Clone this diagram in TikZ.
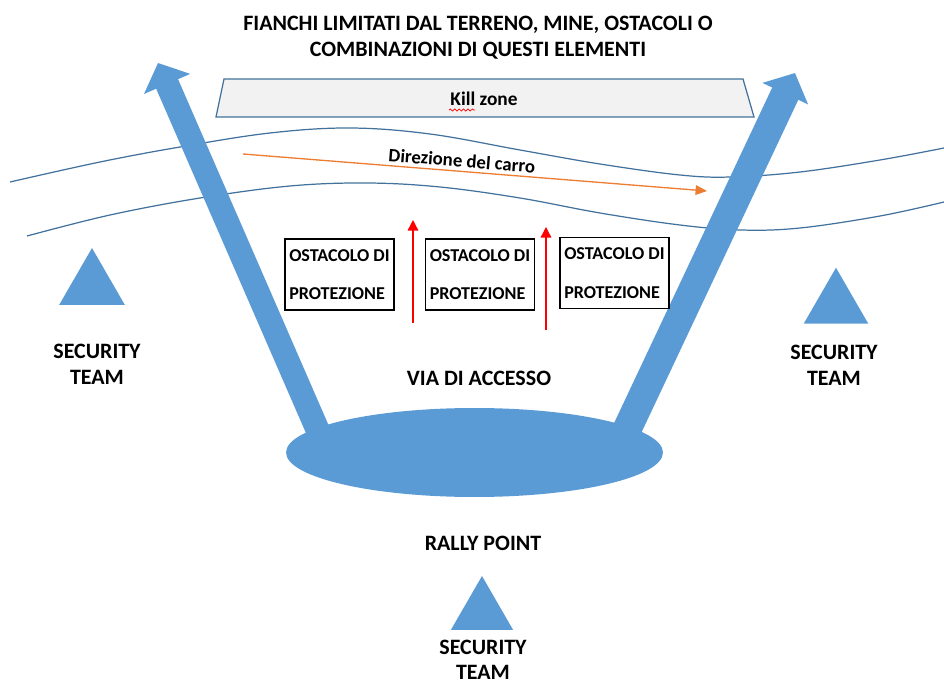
\documentclass[tikz,border=0pt]{standalone}
\usepackage{fontspec}
\setmainfont{Carlito}
\usetikzlibrary{arrows.meta,shapes.geometric,decorations.pathmorphing}
\definecolor{officeblue}{HTML}{5B9BD5}
\definecolor{waveblue}{HTML}{41719C}
\definecolor{carroarancio}{HTML}{ED7D31}
\definecolor{zonegray}{HTML}{F2F2F2}
\tikzset{
  lbl/.style={font=\fontsize{12.5}{15}\selectfont\bfseries, align=center, inner sep=1pt},
  team/.style={regular polygon, regular polygon sides=3, fill=officeblue, inner sep=0pt, outer sep=0pt},
  ostacolo/.style={draw, line width=0.8pt, fill=white, minimum width=2.18cm, minimum height=1.42cm,
    inner sep=1pt, align=left, font=\fontsize{10.3}{22}\selectfont\bfseries},
  bigarrow/.style={officeblue, line cap=butt, -{Triangle[length=13pt, width=28pt]}},
  wave/.style={waveblue, line width=0.7pt},
  zone/.style={draw=waveblue, line width=0.7pt, fill=zonegray},
  carro/.style={carroarancio, line width=0.75pt, -{Triangle[length=6.5pt, width=5.5pt]}},
  avanzata/.style={red, line width=0.75pt, -{Triangle[length=6pt, width=6pt]}},
}
\begin{document}
\begin{tikzpicture}[x=0.02cm, y=-0.02cm]
    \useasboundingbox (0,0) rectangle (944,686);
    % terreno
    \draw[wave] plot[smooth, tension=0.6] coordinates {(10,182) (100,162) (180,147) (270,133) (350,128) (430,134) (520,150) (600,164) (680,175) (731,177) (800,172) (880,160) (944,148)};
    \draw[wave] plot[smooth, tension=0.6] coordinates {(27,236) (110,215) (200,198) (290,186) (367,183) (440,187) (520,198) (600,213) (680,225) (741,230) (800,228) (880,216) (944,202)};
    % kill zone
    \node[lbl] (titolo) at (478,38) {FIANCHI LIMITATI DAL TERRENO, MINE, OSTACOLI O\\COMBINAZIONI DI QUESTI ELEMENTI};
    \draw[zone] (224,79) -- (743,79) -- (754,117) -- (216,117) -- cycle;
    \node[lbl, font=\fontsize{11}{13}\selectfont\bfseries] (kill) at (484,99) {Kill zone};
    \draw[red, line width=0.4pt, decorate, decoration={snake, amplitude=0.6pt, segment length=2.5pt}] (449,110) -- (475,110);
    % direzione del carro
    \coordinate (carroA) at (243,154);
    \coordinate (carroB) at (707,191);
    \draw[carro] (carroA) -- node[sloped, above, pos=0.47, text=black, font=\fontsize{10.7}{12}\selectfont\bfseries, inner sep=2pt] {Direzione del carro} (carroB);
    % vie di fuga
    \coordinate (lfoot) at (322,440);
    \coordinate (ltip) at (158,63);
    \coordinate (rfoot) at (622,440);
    \coordinate (rtip) at (795,73);
    \draw[bigarrow, line width=13.6pt] (lfoot) -- (ltip);
    \draw[bigarrow, line width=16.4pt] (rfoot) -- (rtip);
    \node[ellipse, fill=officeblue, inner sep=0pt, minimum width=7.54cm, minimum height=1.78cm] (rally) at (474.5,452.5) {};
    % ostacoli
    \node[ostacolo] (ost1) at (339.5,274.5) {OSTACOLO DI\\PROTEZIONE};
    \node[ostacolo] (ost2) at (480,274.5) {OSTACOLO DI\\PROTEZIONE};
    \node[ostacolo] (ost3) at (614.5,273) {OSTACOLO DI\\PROTEZIONE};
    \coordinate (av1a) at (413,323);
    \coordinate (av1b) at (413,220);
    \coordinate (av2a) at (546,330);
    \coordinate (av2b) at (546,227);
    \draw[avanzata] (av1a) -- (av1b);
    \draw[avanzata] (av2a) -- (av2b);
    % etichette
    \node[lbl] (accesso) at (479,378) {VIA DI ACCESSO};
    \node[lbl] (rallylbl) at (483,543) {RALLY POINT};
    % security team
    \node[team, minimum size=1.52cm] (tsx) at (92,286) {};
    \node[team, minimum size=1.49cm] (tdx) at (836,305) {};
    \node[team, minimum size=1.44cm] (tgiu) at (482,612) {};
    \node[lbl] (lsx) at (97,364) {SECURITY\\TEAM};
    \node[lbl] (ldx) at (834,365) {SECURITY\\TEAM};
    \node[lbl, font=\fontsize{12.5}{14}\selectfont\bfseries] (lgiu) at (483,660) {SECURITY\\TEAM};
\end{tikzpicture}
\end{document}
